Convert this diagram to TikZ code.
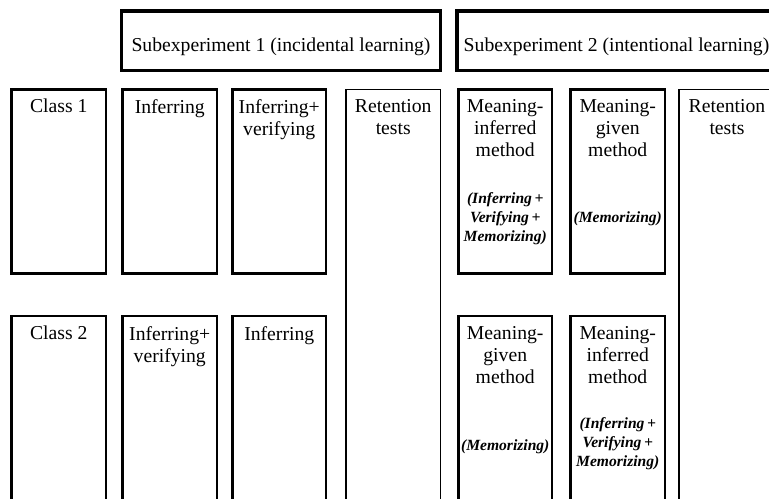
\documentclass[tikz,border=0pt]{standalone}
\usepackage{fontspec}
\setmainfont{Liberation Serif}
\usetikzlibrary{fit}
\begin{document}
\begin{tikzpicture}[
    x=0.03cm, y=-0.03cm,
    head/.style={draw, line width=3pt, inner sep=0pt},
    box/.style={draw, line width=2pt, inner sep=0pt},
    tests/.style={draw, line width=1.5pt, inner sep=0pt},
    lbl/.style={font=\fontsize{16.8}{18.7}\selectfont, align=center, inner sep=0pt},
    how/.style={font=\fontsize{13.3}{16.2}\selectfont\bfseries\itshape, align=center, inner sep=0pt}
]
    \clip (0,0) rectangle (769,498);

    % Subexperiment headers
    \node[head, fit={(121.5,11) (440.5,70.5)}] (s1) {};
    \node[head, fit={(457,11) (776,70.5)}] (s2) {};
    \node[lbl, anchor=base] (s1t) at (281,51.5) {Subexperiment 1 (incidental learning)};
    \node[lbl, anchor=base] (s2t) at (616.5,51.5) {Subexperiment 2 (intentional learning)};

    % Class 1
    \node[box, fit={(11.5,89.5) (106,273.5)}] (c1) {};
    \node[box, fit={(122.5,89.5) (217,273.5)}] (a1) {};
    \node[box, fit={(232.5,89.5) (326,273.5)}] (b1) {};
    \node[box, fit={(458.5,89.5) (552,273.5)}] (m1) {};
    \node[box, fit={(570.5,89.5) (665,273.5)}] (g1) {};

    % Class 2
    \node[box, fit={(11.5,316) (106,530)}] (c2) {};
    \node[box, fit={(122.5,316) (217,530)}] (a2) {};
    \node[box, fit={(232.5,316) (326,530)}] (b2) {};
    \node[box, fit={(458.5,316) (552,530)}] (g2) {};
    \node[box, fit={(570.5,316) (665,530)}] (m2) {};

    % Retention tests
    \node[tests, fit={(346,89.5) (440.5,530)}] (r1) {};
    \node[tests, fit={(679,89.5) (775,530)}] (r2) {};

    % Labels
    \node[lbl, anchor=north] (c1t) at (c1.north |- 0,99) {Class 1};
    \node[lbl, anchor=north] (a1t) at (a1.north |- 0,99) {Inferring};
    \node[lbl, anchor=north] (b1t) at (b1.north |- 0,99) {Inferring+\\verifying};
    \node[lbl, anchor=north] (r1t) at (r1.north |- 0,99) {Retention\\tests};
    \node[lbl, anchor=north] (m1t) at (m1.north |- 0,99) {Meaning-\\inferred\\method};
    \node[lbl, anchor=north] (g1t) at (g1.north |- 0,99) {Meaning-\\given\\method};
    \node[lbl, anchor=north] (r2t) at (r2.north |- 0,99) {Retention\\tests};

    \node[lbl, anchor=north] (c2t) at (c2.north |- 0,326) {Class 2};
    \node[lbl, anchor=north] (a2t) at (a2.north |- 0,326) {Inferring+\\verifying};
    \node[lbl, anchor=north] (b2t) at (b2.north |- 0,326) {Inferring};
    \node[lbl, anchor=north] (g2t) at (g2.north |- 0,326) {Meaning-\\given\\method};
    \node[lbl, anchor=north] (m2t) at (m2.north |- 0,326) {Meaning-\\inferred\\method};

    % Processes
    \node[how, anchor=north] (m1h) at (m1.north |- 0,192) {(Inferring\,+\\Verifying\,+\\Memorizing)};
    \node[how, anchor=base] (g1h) at (g1.north |- 0,222) {(Memorizing)};
    \node[how, anchor=base] (g2h) at (g2.north |- 0,450) {(Memorizing)};
    \node[how, anchor=north] (m2h) at (m2.north |- 0,417) {(Inferring\,+\\Verifying\,+\\Memorizing)};
\end{tikzpicture}
\end{document}
